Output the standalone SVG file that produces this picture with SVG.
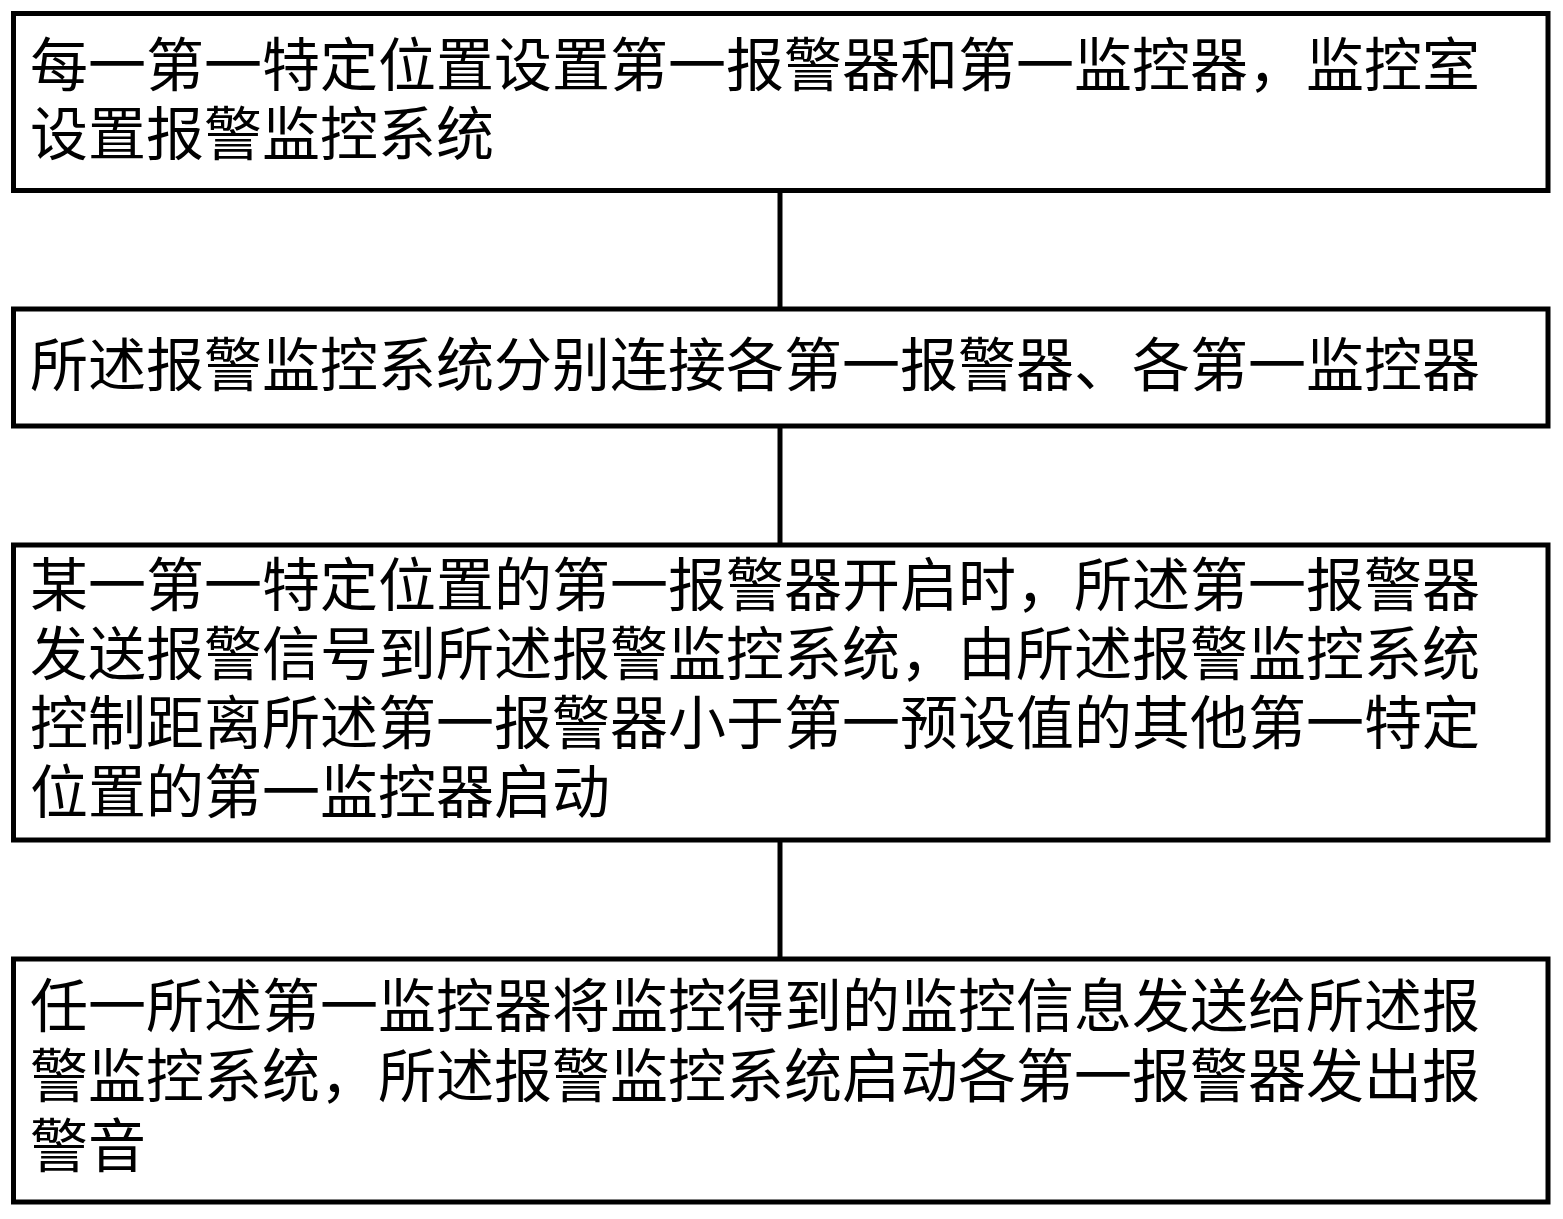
<svg xmlns="http://www.w3.org/2000/svg" width="1563" height="1219" viewBox="0 0 1563 1219">
<style>
.box{fill:#fff;stroke:#000;stroke-width:5}
.t{font-family:"Noto Sans CJK SC","Noto Sans CJK TC",sans-serif;font-size:58px;fill:#000}
.c{stroke:#000;stroke-width:5;fill:none}
</style>
<rect width="1563" height="1219" fill="#fff"/>
<g id="connectors">
<line class="c" x1="780" y1="190" x2="780" y2="309"/>
<line class="c" x1="780" y1="426" x2="780" y2="545"/>
<line class="c" x1="780" y1="840" x2="780" y2="959"/>
</g>
<g id="node1">
<rect class="box" x="13.5" y="13.5" width="1534.5" height="177"/>
<text class="t" x="30" y="86">每一第一特定位置设置第一报警器和第一监控器，监控室</text>
<text class="t" x="30" y="155">设置报警监控系统</text>
</g>
<g id="node2">
<rect class="box" x="13.5" y="309" width="1534.5" height="117"/>
<text class="t" x="30" y="386">所述报警监控系统分别连接各第一报警器、各第一监控器</text>
</g>
<g id="node3">
<rect class="box" x="13.5" y="545" width="1534.5" height="295"/>
<text class="t" x="30" y="606">某一第一特定位置的第一报警器开启时，所述第一报警器</text>
<text class="t" x="30" y="675">发送报警信号到所述报警监控系统，由所述报警监控系统</text>
<text class="t" x="30" y="744">控制距离所述第一报警器小于第一预设值的其他第一特定</text>
<text class="t" x="30" y="813">位置的第一监控器启动</text>
</g>
<g id="node4">
<rect class="box" x="13.5" y="959" width="1534.5" height="243"/>
<text class="t" x="30" y="1027">任一所述第一监控器将监控得到的监控信息发送给所述报</text>
<text class="t" x="30" y="1097">警监控系统，所述报警监控系统启动各第一报警器发出报</text>
<text class="t" x="30" y="1167">警音</text>
</g>
</svg>
